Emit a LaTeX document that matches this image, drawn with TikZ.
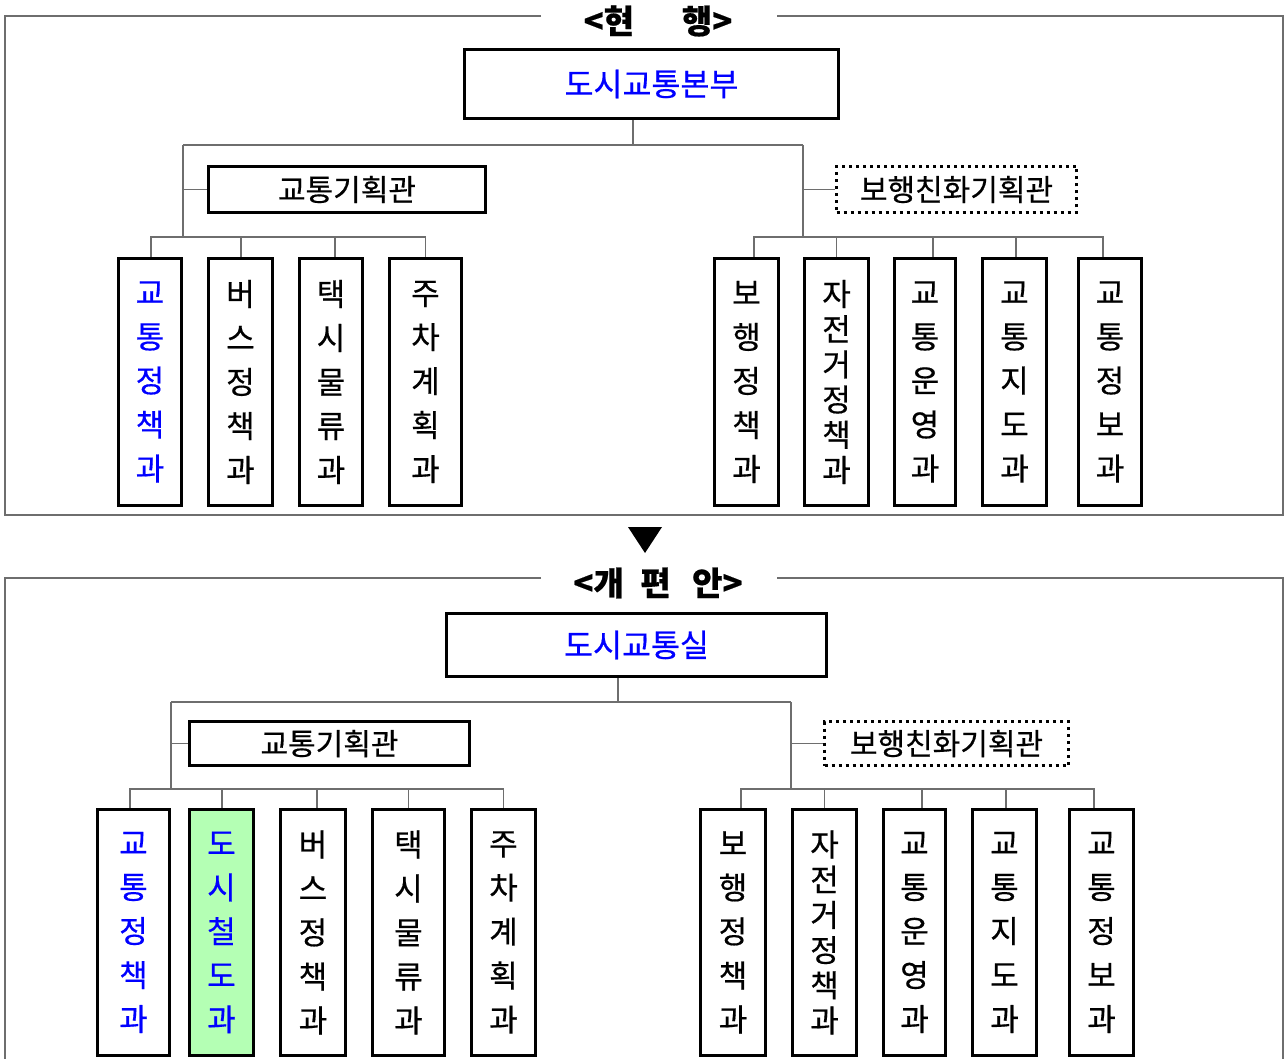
\documentclass[tikz,border=0pt]{standalone}
\usepackage{fontspec}
\setmainfont{Noto Sans CJK KR}[FakeBold=0.5]
\definecolor{kblue}{RGB}{0,0,255}
\definecolor{lgreen}{RGB}{180,255,180}
\definecolor{lgray}{RGB}{110,110,110}
\begin{document}
\begin{tikzpicture}[x=1pt,y=-1pt,
  frame/.style={draw=lgray, line width=1.3pt},
  conn/.style={draw=lgray, line width=1.2pt},
  head/.style={draw, line width=3pt, inner sep=0pt, font=\fontsize{31.5}{36}\selectfont, text=kblue},
  sub/.style={draw, line width=3pt, inner sep=0pt, font=\fontsize{30}{34}\selectfont},
  subdash/.style={sub, dash pattern=on 3pt off 4pt},
  dept/.style={draw, line width=3pt, inner sep=0pt, align=center, font=\fontsize{31}{44}\selectfont},
  deptsix/.style={dept, font=\fontsize{31}{35.2}\selectfont},
  ttl/.style={inner sep=0pt, font=\fontsize{33}{38}\selectfont\bfseries}
]
\useasboundingbox (0,0) rectangle (1284,1059);

% ---------------- current ----------------
\draw[frame] (541,16) -- (5,16) -- (5,515) -- (1283,515) -- (1283,16) -- (777,16);
\node[ttl] (t1) at (658,21) {<현\hspace{1.45em}행>};

\node[head, minimum width=374pt, minimum height=69pt] (top) at (651.5,84) {도시교통본부};
\node[sub, minimum width=277pt, minimum height=46pt] (kL) at (347,189.5) {교통기획관};
\node[subdash, minimum width=240pt, minimum height=46pt] (kR) at (956.5,189.5) {보행친화기획관};

\node[dept, minimum width=63pt, minimum height=247pt, text=kblue] (a1) at (150,382) {교\\통\\정\\책\\과};
\node[dept, minimum width=64pt, minimum height=247pt] (a2) at (240.5,382) {버\\스\\정\\책\\과};
\node[dept, minimum width=63pt, minimum height=247pt] (a3) at (331,382) {택\\시\\물\\류\\과};
\node[dept, minimum width=72pt, minimum height=247pt] (a4) at (425.5,382) {주\\차\\계\\획\\과};

\node[dept, minimum width=64pt, minimum height=247pt] (b1) at (746.5,382) {보\\행\\정\\책\\과};
\node[deptsix, minimum width=64pt, minimum height=247pt] (b2) at (836.5,382) {자\\전\\거\\정\\책\\과};
\node[dept, minimum width=61pt, minimum height=247pt] (b3) at (925,382) {교\\통\\운\\영\\과};
\node[dept, minimum width=64pt, minimum height=247pt] (b4) at (1014.5,382) {교\\통\\지\\도\\과};
\node[dept, minimum width=63pt, minimum height=247pt] (b5) at (1110,382) {교\\통\\정\\보\\과};

\coordinate (hL) at (183,145);
\coordinate (hR) at (803,145);
\coordinate (bL) at (183,237);
\coordinate (bR) at (803,237);

\draw[conn] ([xshift=-18.5pt]top.south) |- (hL);
\draw[conn] ([xshift=-18.5pt]top.south) |- (hR);
\draw[conn] (hL) -- (bL);
\draw[conn] (hR) -- (bR);
\draw[conn] (kL.west) -- (kL.west -| hL);
\draw[conn] (kR.west) -- (kR.west -| hR);
\draw[conn] ([xshift=1pt]a1.north) |- (bL);
\draw[conn] ([xshift=0.5pt]a2.north) |- (bL);
\draw[conn] ([xshift=4pt]a3.north) |- (bL);
\draw[conn] (a4.north) |- (bL);
\draw[conn] ([xshift=7.5pt]b1.north) |- (bR);
\draw[conn] (b2.north) |- (bR);
\draw[conn] ([xshift=8pt]b3.north) |- (bR);
\draw[conn] ([xshift=1.5pt]b4.north) |- (bR);
\draw[conn] ([xshift=-7pt]b5.north) |- (bR);

% arrow
\fill (628,527) -- (662,527) -- (645,553) -- cycle;

% ---------------- proposed ----------------
\draw[frame] (541,578) -- (5,578) -- (5,1059);
\draw[frame] (777,578) -- (1283,578) -- (1283,1059);
\node[ttl] (t2) at (658,583) {<개\hspace{0.5em}편\hspace{0.65em}안>};

\node[head, minimum width=380pt, minimum height=63pt] (top2) at (636.5,645) {도시교통실};
\node[sub, minimum width=280pt, minimum height=44pt] (kL2) at (329.5,743.5) {교통기획관};
\node[subdash, minimum width=244pt, minimum height=44pt] (kR2) at (946.5,743.5) {보행친화기획관};

\node[dept, minimum width=72pt, minimum height=246pt, text=kblue] (c1) at (133.5,932.5) {교\\통\\정\\책\\과};
\node[dept, minimum width=64pt, minimum height=246pt, text=kblue, fill=lgreen] (c2) at (221.5,932.5) {도\\시\\철\\도\\과};
\node[dept, minimum width=65pt, minimum height=246pt] (c3) at (313,932.5) {버\\스\\정\\책\\과};
\node[dept, minimum width=72pt, minimum height=246pt] (c4) at (408.5,932.5) {택\\시\\물\\류\\과};
\node[dept, minimum width=64pt, minimum height=246pt] (c5) at (503.5,932.5) {주\\차\\계\\획\\과};

\node[dept, minimum width=65pt, minimum height=246pt] (d1) at (733,932.5) {보\\행\\정\\책\\과};
\node[deptsix, minimum width=64pt, minimum height=246pt] (d2) at (824.5,932.5) {자\\전\\거\\정\\책\\과};
\node[dept, minimum width=62pt, minimum height=246pt] (d3) at (914.5,932.5) {교\\통\\운\\영\\과};
\node[dept, minimum width=64pt, minimum height=246pt] (d4) at (1004.5,932.5) {교\\통\\지\\도\\과};
\node[dept, minimum width=64pt, minimum height=246pt] (d5) at (1101.5,932.5) {교\\통\\정\\보\\과};

\coordinate (hL2) at (171,702);
\coordinate (hR2) at (791,702);
\coordinate (bL2) at (171,789);
\coordinate (bR2) at (791,789);

\draw[conn] ([xshift=-18.5pt]top2.south) |- (hL2);
\draw[conn] ([xshift=-18.5pt]top2.south) |- (hR2);
\draw[conn] (hL2) -- (bL2);
\draw[conn] (hR2) -- (bR2);
\draw[conn] (kL2.west) -- (kL2.west -| hL2);
\draw[conn] (kR2.west) -- (kR2.west -| hR2);
\draw[conn] ([xshift=-3.5pt]c1.north) |- (bL2);
\draw[conn] ([xshift=0.5pt]c2.north) |- (bL2);
\draw[conn] ([xshift=4pt]c3.north) |- (bL2);
\draw[conn] (c4.north) |- (bL2);
\draw[conn] (c5.north) |- (bL2);
\draw[conn] ([xshift=8pt]d1.north) |- (bR2);
\draw[conn] (d2.north) |- (bR2);
\draw[conn] ([xshift=7.5pt]d3.north) |- (bR2);
\draw[conn] ([xshift=1.5pt]d4.north) |- (bR2);
\draw[conn] ([xshift=-7.5pt]d5.north) |- (bR2);
\end{tikzpicture}
\end{document}
